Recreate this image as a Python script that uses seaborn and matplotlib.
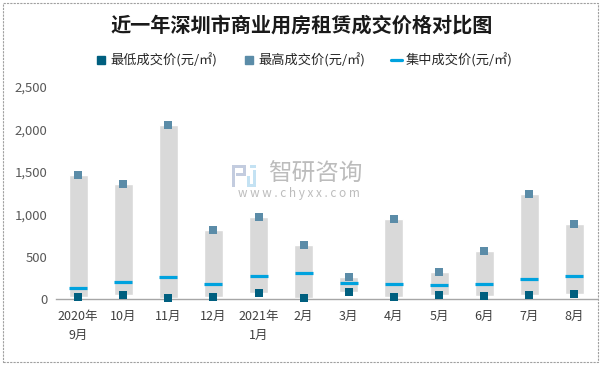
import matplotlib
matplotlib.use("Agg")
import matplotlib.pyplot as plt
import seaborn as sns
import numpy as np
import pandas as pd
from matplotlib.lines import Line2D
from matplotlib.patches import Rectangle

categories = ["2020年\n9月", "10月", "11月", "12月", "2021年\n1月", "2月", "3月",
              "4月", "5月", "6月", "7月", "8月"]
low_price = [24, 47, 12, 24, 71, 12, 82, 24, 47, 35, 47, 59]
high_price = [1460, 1355, 2050, 815, 968, 645, 268, 945, 320, 568, 1235, 892]
mid_price = [130, 200, 259, 177, 271, 307, 188, 177, 165, 177, 236, 271]
y_ticks = [0, 500, 1000, 1500, 2000, 2500]

title = "近一年深圳市商业用房租赁成交价格对比图"
legend_labels = ["最低成交价(元/㎡)", "最高成交价(元/㎡)", "集中成交价(元/㎡)"]

sns.set_theme(style="white")
plt.rcParams['font.family'] = ['Noto Sans CJK SC', 'DejaVu Sans']

df = pd.DataFrame({"cat": categories, "low": low_price, "high": high_price, "mid": mid_price})
df["range"] = df["high"] - df["low"]
df["pos"] = np.arange(len(df))

W, H = 604, 367
fig = plt.figure(figsize=(6.04, 3.67), dpi=100)
ax = fig.add_axes([55.5 / W, 67.7 / H, (597 - 55.5) / W, (280 - 67.7) / H])

c_gray = "#D9D9D9"
c_low = "#005F7F"
c_high = "#5B8CA8"
c_mid = "#00A2DE"

ax.bar(df["pos"], df["range"], bottom=df["low"], width=0.42, color=c_gray, zorder=1)
sns.scatterplot(data=df, x="pos", y="mid", marker="_", s=150, linewidth=2.3,
                color=c_mid, ax=ax, zorder=3, legend=False)
sns.scatterplot(data=df, x="pos", y="high", marker="s", s=36, linewidth=0,
                color=c_high, ax=ax, zorder=4, legend=False)
sns.scatterplot(data=df, x="pos", y="low", marker="s", s=36, linewidth=0,
                color=c_low, ax=ax, zorder=4, legend=False, clip_on=False)

ax.set_xlim(-0.5, len(categories) - 0.5)
ax.set_ylim(0, 2500)
ax.set_yticks(y_ticks)
ax.set_yticklabels([f"{v:,}" for v in y_ticks], fontsize=9.5, color="#595959")
ax.set_xticks(df["pos"])
ax.set_xticklabels(categories, fontsize=9, color="#404040", linespacing=1.6)
ax.tick_params(axis="both", length=0, pad=6)
ax.tick_params(axis="x", pad=8)
ax.set_xlabel("")
ax.set_ylabel("")
for s in ["top", "right", "left"]:
    ax.spines[s].set_visible(False)
ax.spines["bottom"].set_color("#A6A6A6")
ax.spines["bottom"].set_linewidth(1.0)
ax.spines["bottom"].set_zorder(2)

fig.text(0.5, 1 - 25 / H, title, ha="center", va="center", fontsize=14.5,
         fontweight="bold", color="#1a1a1a")

handles = [
    Line2D([], [], marker="s", linestyle="", color=c_low, markersize=6),
    Line2D([], [], marker="s", linestyle="", color=c_high, markersize=6),
    Line2D([], [], color=c_mid, linewidth=2.3),
]
fig.legend(handles, legend_labels, loc="center", bbox_to_anchor=(0.504, 1 - 60 / H),
           ncol=3, frameon=False, fontsize=9.5, handlelength=0.8, handletextpad=0.3,
           columnspacing=2.0, labelcolor="#262626")

# watermark text
fig.text(315 / W, 1 - 174 / H, "智研咨询", ha="center", va="center", fontsize=17,
         color="#B5B5B5", alpha=0.9)
fig.text(299 / W, 1 - 194 / H, " ".join("www.chyxx.com"), ha="center", va="center",
         fontsize=8.5, color="#B5B5B5", alpha=0.9)

# watermark logo (pixel boxes: x0, y0_top, x1, y1_bottom)
logo_left = [(232, 165, 246, 168), (243, 165, 246, 176), (236, 173, 246, 176), (232, 165, 235, 187)]
logo_right = [(250, 165, 256, 168), (253, 170, 256, 187), (247, 184, 256, 187), (247, 176, 250, 187)]
for boxes, col in [(logo_left, "#C3CCDF"), (logo_right, "#C4E2F3")]:
    for x0, y0, x1, y1 in boxes:
        fig.patches.append(Rectangle((x0 / W, 1 - y1 / H), (x1 - x0) / W, (y1 - y0) / H,
                                     transform=fig.transFigure, facecolor=col,
                                     edgecolor="none", zorder=0))

# outer frame
fig.patches.append(Rectangle((3 / W, 5 / H), 595 / W, 359 / H, transform=fig.transFigure,
                             fill=False, edgecolor="#A0A0A0", linewidth=0.8, linestyle=(0, (2, 1))))

fig.savefig("out.png", dpi=100)
